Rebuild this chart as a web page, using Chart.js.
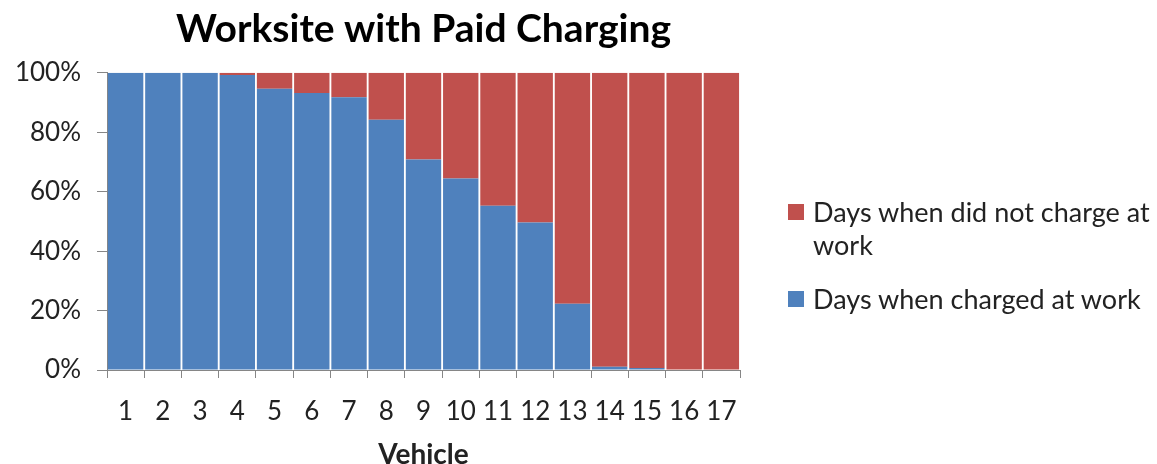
<!DOCTYPE html>
<html>
<head>
<meta charset="utf-8">
<script src="https://cdn.jsdelivr.net/npm/chart.js@4/dist/chart.umd.min.js"></script>
<style>
  html, body { margin: 0; padding: 0; background: #fff; }
  #wrap { position: relative; width: 1157px; height: 464px; }
  #legend { position: absolute; left: 788px; top: 195px; width: 369px; font-family: Lato, sans-serif; font-size: 27px; color: #222; line-height: 33px; }
  .item { position: relative; padding-left: 25px; margin-bottom: 21px; }
  .box { position: absolute; left: 0; top: 9px; width: 16px; height: 16px; }
</style>
</head>
<body>
<div id="wrap">
  <canvas id="chart" width="1157" height="464"></canvas>
  <div id="legend"></div>
</div>
<script>
const vehicles = ['1','2','3','4','5','6','7','8','9','10','11','12','13','14','15','16','17'];
const chargedPct = [100, 100, 100, 99.3, 94.6, 93.2, 91.8, 84.2, 70.8, 64.4, 55.3, 49.6, 22.3, 1.1, 0.7, 0, 0];
const notChargedPct = chargedPct.map(v => +(100 - v).toFixed(1));
const chargedLabel = 'Days when charged at work';
const notChargedLabel = 'Days when did not charge at work';

const blue = '#4F81BD';
const red = '#C0504D';
const axisGray = '#868686';

const chart = new Chart(document.getElementById('chart'), {
  type: 'bar',
  data: {
    labels: vehicles,
    datasets: [
      { label: chargedLabel, data: chargedPct, backgroundColor: blue },
      { label: notChargedLabel, data: notChargedPct, backgroundColor: red }
    ]
  },
  options: {
    responsive: false,
    animation: false,
    layout: { padding: { left: 0, right: 417, top: 0, bottom: 0 } },
    datasets: {
      bar: { barPercentage: 0.95, categoryPercentage: 1 }
    },
    plugins: {
      legend: { display: false },
      tooltip: { enabled: false },
      title: {
        display: true,
        fullSize: false,
        text: 'Worksite with Paid Charging',
        color: '#000',
        font: { family: 'Lato', size: 39, weight: 'bold' },
        padding: { top: 6, bottom: 20 }
      }
    },
    scales: {
      x: {
        stacked: true,
        grid: { offset: true, drawOnChartArea: false, tickLength: 8, color: axisGray },
        border: { color: axisGray, width: 1 },
        ticks: { color: '#222', font: { family: 'Lato', size: 26 }, padding: 18, maxRotation: 0, autoSkip: false },
        title: { display: true, text: 'Vehicle', color: '#222', font: { family: 'Lato', size: 28, weight: 'bold' }, padding: { top: 14, bottom: -8 } },
        afterFit: s => { s.height = 94; }
      },
      y: {
        stacked: true,
        min: 0,
        max: 100,
        grid: { drawOnChartArea: false, tickLength: 10, color: axisGray },
        border: { color: axisGray, width: 1 },
        ticks: { stepSize: 20, color: '#222', font: { family: 'Lato', size: 26 }, padding: 16, callback: v => v + '%' },
        afterFit: s => { s.width = 107; }
      }
    }
  }
});

// legend in the reference lists the top series first and wraps long text
const legend = document.getElementById('legend');
chart.data.datasets.slice().reverse().forEach(ds => {
  const item = document.createElement('div');
  item.className = 'item';
  const box = document.createElement('span');
  box.className = 'box';
  box.style.background = ds.backgroundColor;
  item.appendChild(box);
  item.appendChild(document.createTextNode(ds.label));
  legend.appendChild(item);
});
</script>
</body>
</html>
